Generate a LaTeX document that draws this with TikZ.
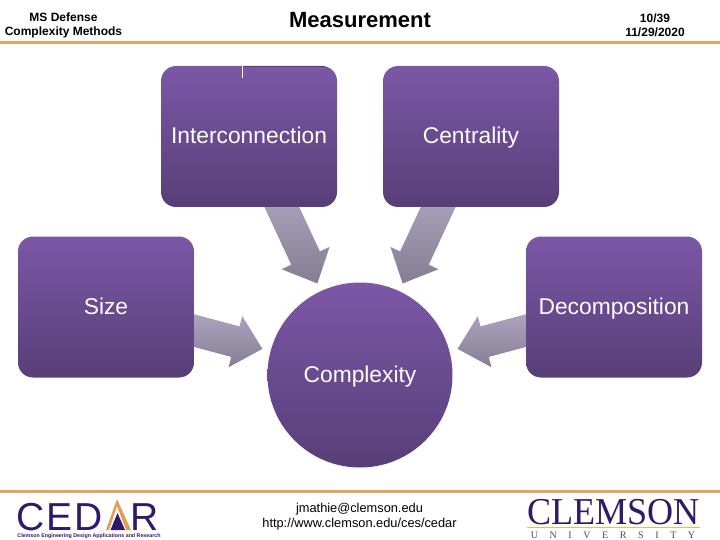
\documentclass[tikz,border=0pt]{standalone}
\usepackage{fontspec}
\setmainfont{Liberation Sans}
\newfontfamily\logoserif{Liberation Serif}
\usetikzlibrary{calc,backgrounds}
\definecolor{tiletop}{HTML}{7B57A6}
\definecolor{tilemid}{HTML}{6F4F96}
\definecolor{tilebot}{HTML}{583E78}
\definecolor{arrtop}{HTML}{ABA4BD}
\definecolor{arrbot}{HTML}{857D93}
\definecolor{rulecol}{HTML}{E0A468}
\definecolor{logoink}{HTML}{2E1A6A}
\newcommand{\px}[1]{\fontsize{#1}{#1}\selectfont}
% block arrow from a tile towards the circle
\newcommand{\blockarr}[2]{
  \coordinate (tip) at ($(cplx)!101pt!(#1)$);
  \coordinate (hb) at ($(tip)!28pt!(#1)$);
  \coordinate (tl) at ($(tip)!#2!(#1)$);
  \shade[arr] (tip) -- ($(hb)!26.5pt!90:(tip)$) -- ($(hb)!15.8pt!90:(tip)$)
    -- ($(tl)!15.8pt!90:(tip)$) -- ($(tl)!15.8pt!-90:(tip)$)
    -- ($(hb)!15.8pt!-90:(tip)$) -- ($(hb)!26.5pt!-90:(tip)$) -- cycle;
}
\begin{document}
\begin{tikzpicture}[
  x=1pt, y=-1pt,
  tile/.style={rounded corners=15pt, top color=tiletop, middle color=tilemid, bottom color=tilebot, text=white, font=\px{22.8}, minimum width=176pt, minimum height=141pt, inner sep=0pt, text height=20pt, text depth=5pt},
  orb/.style={circle, top color=tiletop, middle color=tilemid, bottom color=tilebot, text=white, font=\px{22.8}, minimum size=185pt, inner sep=0pt, text height=20pt, text depth=5pt},
  arr/.style={top color=arrtop, bottom color=arrbot},
  head/.style={font=\px{12}\bfseries, align=center},
  rulebar/.style={line width=3pt, rulecol}
]
\useasboundingbox (0,0) rectangle (720,540);

% Header
\node[head] (course) at (63.5,25) {MS Defense\\[2pt]Complexity Methods};
\node[font=\px{22}\bfseries] (title) at (360,20.5) {Measurement};
\node[head] (page) at (655,25) {10/39\\[2pt]11/29/2020};
\draw[rulebar] (0,42.5) -- (720,42.5);

% Tiles
\node[tile] (inter) at (249,136.5) {Interconnection};
\node[tile] (centr) at (471,136.5) {Centrality};
\node[tile] (sizet) at (106,307) {Size};
\node[tile] (decomp) at (614,307) {Decomposition};
\node[orb] (cplx) at (360,375) {Complexity};
\draw[white, line width=1pt] (242.5,66) -- (242.5,78);
\draw[tilebot, line width=1pt] (243,66.5) -- (325,66.5);

% Arrows
\begin{scope}[on background layer]
\blockarr{inter}{92pt}
\blockarr{centr}{92pt}
\blockarr{sizet}{75pt}
\blockarr{decomp}{75pt}
\end{scope}

% Footer
\draw[rulebar] (0,491.5) -- (720,491.5);
\node[font=\px{12.8}, align=center] (mail) at (359.5,517) {jmathie@clemson.edu\\[2pt]http://www.clemson.edu/ces/cedar};

% CEDAR logo
\node[font=\px{39}, text=logoink, inner sep=0pt, anchor=base west] (cedl) at (16,530) {\addfontfeature{LetterSpace=5}CED};
\node[font=\px{39}, text=logoink, inner sep=0pt, anchor=base west] (cedr) at (130.5,530) {R};
\fill[rulecol!80!orange] (106,530) -- (117,499) -- (131,530) -- (126,530) -- (117,506) -- (109,530) -- cycle;
\fill[logoink] (110.5,530) -- (117.5,513) -- (125,530) -- cycle;
\node[font=\px{5.3}\bfseries, text=logoink, inner sep=0pt] (cedsub) at (89,536.5) {Clemson Engineering Design Applications and Research};

% Clemson logo
\node[font=\logoserif\px{38}, text=logoink, inner sep=0pt, anchor=base, xscale=.95, transform shape] (clem) at (613.5,524.5) {CLEMSON};
\draw[rulecol!70!yellow, line width=1pt] (527,527) -- (700,527);
\node[font=\logoserif\px{10}, text=black!70, inner sep=0pt, anchor=base] (univ) at (613,538) {\addfontfeature{LetterSpace=116}UNIVERSITY};
\end{tikzpicture}
\end{document}
